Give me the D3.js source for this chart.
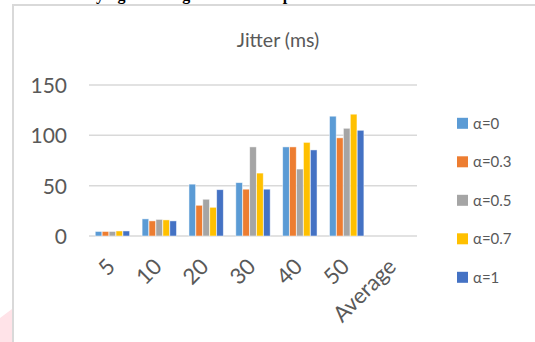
<!DOCTYPE html>
<html>
<head>
<meta charset="utf-8">
<script src="https://cdn.jsdelivr.net/npm/d3@7"></script>
<style>
  html, body { margin: 0; padding: 0; background: #fff; }
  svg { display: block; }
</style>
</head>
<body>
<svg id="chart" width="535" height="342"></svg>
<script>
// Category labels along the x axis
const categories = ["5", "10", "20", "30", "40", "50", "Average"];
// Series names (one bar per series in each category)
const seriesNames = ["α=0", "α=0.3", "α=0.5", "α=0.7", "α=1"];
const seriesColors = ["#5B9BD5", "#ED7D31", "#A5A5A5", "#FFC000", "#4472C4"];
// Jitter (ms) per series, one value per category ("Average" left empty)
const alpha0  = [4.5, 17, 51.5, 53, 88.5, 119, null];
const alpha03 = [4.5, 15, 30.5, 46.5, 88.5, 97.5, null];
const alpha05 = [4.5, 16.5, 36.5, 88.5, 66.5, 107, null];
const alpha07 = [5, 16, 28.5, 62.5, 93, 121, null];
const alpha1  = [5, 15, 46, 46.5, 85.5, 105, null];
const seriesValues = [alpha0, alpha03, alpha05, alpha07, alpha1];
// Value axis ticks
const yTicks = [0, 50, 100, 150];

const svg = d3.select("#chart");
const font = "Lato, 'Open Sans', sans-serif";
const textGrey = "#595959";

// Caption of the surrounding document, running off the top edge
svg.append("text")
  .attr("x", 6).attr("y", -0.5)
  .attr("font-family", "'Liberation Serif', serif")
  .attr("font-weight", "bold")
  .attr("font-size", 16)
  .attr("fill", "#000")
  .text("Jitter for Varying α Setting and Non-adaptive Scheme");

// Pink page decoration at the lower left
svg.append("path")
  .attr("d", "M0,318 L12,309 L12,342 L0,342 Z")
  .attr("fill", "#ffe3e8");

// Chart frame (continues past the right and bottom edges)
svg.append("path")
  .attr("d", "M13,342 L13,5 L535,5")
  .attr("fill", "none")
  .attr("stroke", "#d9d9d9")
  .attr("stroke-width", 2);

const x0 = d3.scaleBand()
  .domain(categories)
  .range([89, 417])
  .paddingInner(0.255)
  .paddingOuter(0.1275);

const x1 = d3.scaleBand()
  .domain(seriesNames)
  .range([0, x0.bandwidth()])
  .padding(0.04);

const y = d3.scaleLinear().domain([0, 150]).range([236, 85]);

// Title
svg.append("text")
  .attr("x", 278).attr("y", 47)
  .attr("text-anchor", "middle")
  .attr("font-family", font)
  .attr("font-size", 19.5)
  .attr("fill", textGrey)
  .text("Jitter (ms)");

// Gridlines
svg.append("g")
  .selectAll("line")
  .data(yTicks)
  .join("line")
  .attr("x1", 89).attr("x2", 417)
  .attr("y1", d => y(d)).attr("y2", d => y(d))
  .attr("stroke", "#d9d9d9")
  .attr("stroke-width", 1.5);

// Y axis labels
const yAxis = d3.axisLeft(y).tickValues(yTicks).tickSize(0).tickPadding(0);
const gy = svg.append("g").attr("transform", "translate(67,0)").call(yAxis);
gy.select(".domain").remove();
gy.selectAll("text")
  .attr("font-family", font)
  .attr("font-size", 21)
  .attr("fill", textGrey)
  .attr("dy", "0.36em");

// Bars
const groups = svg.append("g")
  .selectAll("g")
  .data(categories)
  .join("g")
  .attr("transform", d => `translate(${x0(d)},0)`);

groups.selectAll("rect")
  .data((c, ci) => seriesNames.map((s, si) => ({ s, si, v: seriesValues[si][ci] })).filter(d => d.v != null))
  .join("rect")
  .attr("x", d => x1(d.s))
  .attr("width", x1.bandwidth())
  .attr("y", d => y(d.v))
  .attr("height", d => y(0) - y(d.v))
  .attr("fill", d => seriesColors[d.si])
  .attr("stroke", "#ffffff")
  .attr("stroke-opacity", 0.6)
  .attr("stroke-width", 0.8);

// X axis labels, rotated
const xAxis = d3.axisBottom(x0).tickSize(0).tickPadding(0);
const gx = svg.append("g").attr("transform", "translate(0,236)").call(xAxis);
gx.select(".domain").remove();
gx.selectAll(".tick text")
  .attr("font-family", font)
  .attr("font-size", 22)
  .attr("fill", textGrey)
  .attr("text-anchor", "end")
  .attr("y", 0).attr("dy", 0)
  .attr("transform", "translate(4,32) rotate(-45)");

// Legend
const legend = svg.append("g")
  .selectAll("g")
  .data(seriesNames)
  .join("g")
  .attr("transform", (d, i) => `translate(457,${123.3 + i * 38.5})`);
legend.append("rect")
  .attr("x", 0).attr("y", -5.5)
  .attr("width", 11).attr("height", 11)
  .attr("fill", (d, i) => seriesColors[i]);
legend.append("text")
  .attr("x", 16).attr("y", 0)
  .attr("dy", "0.36em")
  .attr("font-family", font)
  .attr("font-size", 15)
  .attr("fill", textGrey)
  .text(d => d);
</script>
</body>
</html>
